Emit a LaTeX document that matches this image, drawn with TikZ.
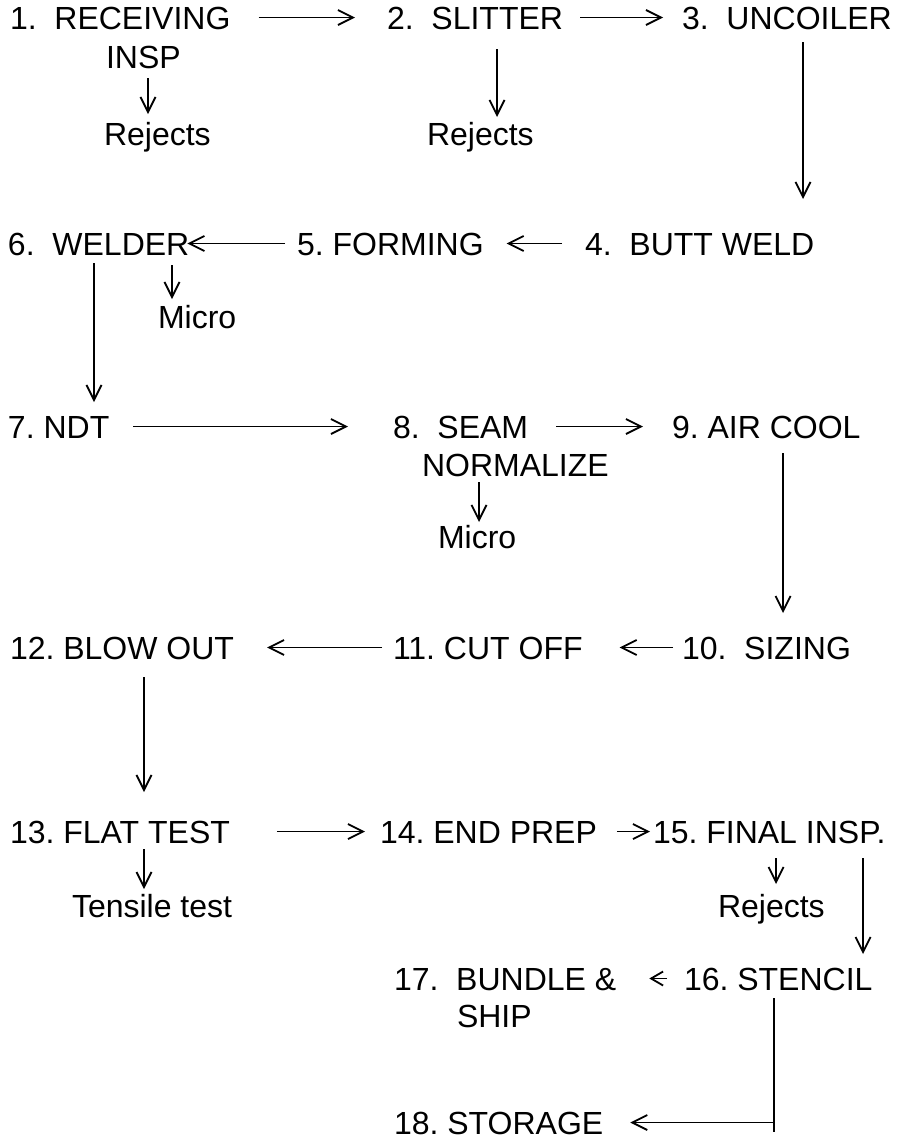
\documentclass[tikz,border=0pt]{standalone}
\usepackage{fontspec}
\setmainfont{Liberation Sans}
\usetikzlibrary{arrows.meta}
\frenchspacing
\begin{document}
\begin{tikzpicture}[x=1pt,y=-1pt,
  lbl/.style={anchor=base west,inner sep=0pt,outer sep=0pt,text height=23pt,text depth=0pt,
    font=\fontsize{32}{38}\selectfont\frenchspacing},
  arr/.style={line width=1.8pt,-{Straight Barb[length=15pt,width=15pt,line width=1.8pt]}},
  sarr/.style={line width=1.8pt,-{Straight Barb[length=12pt,width=14pt,line width=1.8pt]}},
  ln/.style={line width=1.8pt}]
\path[use as bounding box] (0,0) rectangle (919,1141);
% nodes
\node[lbl] (n1) at (10,29) {1.~~RECEIVING};
\node[lbl] (n1b) at (106,68) {INSP};
\node[lbl] (rej1) at (104,145) {Rejects};
\node[lbl] (n2) at (387,29) {2.~~SLITTER};
\node[lbl] (rej2) at (427,145) {Rejects};
\node[lbl] (n3) at (682,29) {3.~~UNCOILER};
\node[lbl] (n6) at (8,255) {6.~~WELDER};
\node[lbl] (n5) at (297,255) {5. FORMING};
\node[lbl] (n4) at (585,255) {4.~~BUTT WELD};
\node[lbl] (mic1) at (158,328) {Micro};
\node[lbl] (n7) at (8,438) {7. NDT};
\node[lbl] (n8) at (393,438) {8.~~SEAM};
\node[lbl] (n8b) at (422,476) {NORMALIZE};
\node[lbl] (mic2) at (438,548) {Micro};
\node[lbl] (n9) at (672,438) {9. AIR COOL};
\node[lbl] (n12) at (10,659) {12. BLOW OUT};
\node[lbl] (n11) at (393,659) {11. CUT OFF};
\node[lbl] (n10) at (682,659) {10.~~SIZING};
\node[lbl] (n13) at (10,843) {13. FLAT TEST};
\node[lbl] (n14) at (380,843) {14. END PREP};
\node[lbl] (n15) at (653,843) {15. FINAL INSP.};
\node[lbl] (tens) at (72,917) {Tensile test};
\node[lbl] (rej3) at (718,917) {Rejects};
\node[lbl] (n17) at (394,990) {17.~~BUNDLE \&};
\node[lbl] (n17b) at (457,1027) {SHIP};
\node[lbl] (n16) at (684,990) {16. STENCIL};
\node[lbl] (n18) at (394,1134) {18. STORAGE};
% connectors
\draw[arr] ([xshift=28pt]n1.east) -- ([xshift=-32pt]n2.west);
\draw[arr] ([xshift=17pt]n2.east) -- ([xshift=-19pt]n3.west);
\draw[arr] ([shift={(42,10)}]n1b.south west) -- ([shift={(44,-8)}]rej1.north west);
\draw[arr] ([shift={(110,20)}]n2.south west) -- ([shift={(70,-5)}]rej2.north west);
\draw[arr] ([shift={(121,13)}]n3.south west) -- ([shift={(218,-33)}]n4.north west);
\draw[arr] ([xshift=-23pt]n4.west) -- ([xshift=23pt]n5.east);
\draw[arr] ([xshift=-12pt]n5.west) -- ([xshift=-2pt]n6.east);
\draw[arr] ([shift={(164,10)}]n6.south west) -- ([shift={(14,-6)}]mic1.north west);
\draw[arr] ([shift={(86,8)}]n6.south west) -- ([shift={(86,-13)}]n7.north west);
\draw[arr] ([xshift=24pt]n7.east) -- ([xshift=-45pt]n8.west);
\draw[arr] ([xshift=28pt]n8.east) -- ([xshift=-29pt]n9.west);
\draw[arr] ([shift={(57,6)}]n8b.south west) -- ([shift={(41,-3)}]mic2.north west);
\draw[arr] ([shift={(111,15)}]n9.south west) -- ([shift={(101,-23)}]n10.north west);
\draw[arr] ([xshift=-9pt]n10.west) -- ([xshift=37pt]n11.east);
\draw[arr] ([xshift=-11pt]n11.west) -- ([xshift=33pt]n12.east);
\draw[arr] ([shift={(134,18)}]n12.south west) -- ([shift={(134,-28)}]n13.north west);
\draw[arr] ([xshift=47pt]n13.east) -- ([xshift=-15pt]n14.west);
\draw[arr] ([xshift=20pt]n14.east) -- ([xshift=-3pt]n15.west);
\draw[arr] ([shift={(134,6)}]n13.south west) -- ([shift={(72,-5)}]tens.north west);
\draw[arr] ([shift={(123,15)}]n15.south west) -- ([shift={(58,-10)}]rej3.north west);
\draw[arr] ([shift={(210,15)}]n15.south west) -- ([shift={(179,-13)}]n16.north west);
\draw[sarr] ([xshift=-17pt]n16.west) -- ([xshift=33pt]n17.east);
\coordinate (c18t) at ([shift={(90,8)}]n16.south west);
\coordinate (c18) at (c18t |- n18.east);
\draw[ln] (c18t) -- ([yshift=-9pt]c18);
\draw[arr] (c18) -- ([xshift=27pt]n18.east);
\end{tikzpicture}
\end{document}
